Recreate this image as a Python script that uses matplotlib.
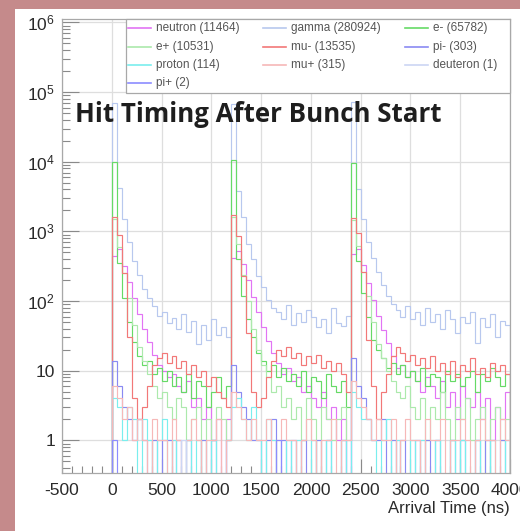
import numpy as np
import matplotlib
matplotlib.use("Agg")
import matplotlib.pyplot as plt
from matplotlib.patches import Rectangle
from matplotlib.lines import Line2D
from matplotlib.ticker import FixedLocator, FuncFormatter, LogLocator, MultipleLocator, NullFormatter

# ---------------------------------------------------------------- data
t_start, t_stop, bin_width = 0, 4000, 50          # ns

species = ["neutron", "gamma", "e-", "e+", "mu-", "pi-", "proton", "mu+", "deuteron", "pi+"]
entries = [11464, 280924, 65782, 10531, 13535, 303, 114, 315, 1, 2]

neutron = [
    450, 550, 320, 190, 110, 65, 40, 26, 17, 12, 10, 8, 9, 6, 5, 7, 3, 4, 2, 3, 1, 2, 0, 2,
    420, 530, 340, 200, 115, 70, 42, 27, 18, 13, 9, 11, 7, 8, 5, 6, 4, 3, 5, 2, 3, 1, 2, 0,
    480, 560, 330, 180, 105, 62, 38, 25, 16, 11, 12, 8, 10, 7, 5, 8, 6, 4, 7, 3, 5, 2, 6, 4,
    3, 5, 2, 4, 1, 3, 2, 5]
gamma = [
    70000, 4200, 1500, 700, 380, 240, 150, 110, 85, 62, 70, 48, 58, 40, 65, 36, 52, 24, 45, 28,
    55, 33, 42, 30,
    68000, 3800, 1600, 650, 400, 230, 160, 105, 80, 70, 55, 88, 45, 68, 50, 75, 60, 42, 55, 35,
    80, 48, 44, 62,
    72000, 4000, 1500, 700, 420, 260, 170, 120, 90, 75, 60, 85, 55, 70, 45, 80, 50, 65, 40, 75,
    55, 35, 60, 48, 70, 25, 58, 42, 66, 30, 52, 45]
e_minus = [
    10000, 350, 110, 50, 26, 16, 12, 14, 9, 11, 7, 10, 6, 8, 5, 9, 4, 7, 6, 3, 5, 8, 4, 6,
    10500, 400, 120, 55, 30, 18, 14, 10, 12, 8, 11, 7, 9, 6, 10, 5, 8, 7, 4, 9, 6, 5, 7, 3,
    9500, 380, 130, 60, 28, 20, 15, 11, 13, 9, 12, 8, 10, 7, 11, 6, 9, 8, 5, 10, 7, 9, 6, 8,
    10, 5, 9, 7, 11, 8, 6, 9]
e_plus = [
    1500, 600, 250, 110, 45, 22, 14, 9, 6, 4, 5, 3, 2, 4, 3, 1, 2, 3, 0, 2, 1, 3, 2, 1,
    1600, 650, 240, 100, 40, 20, 12, 8, 5, 6, 3, 4, 2, 3, 1, 4, 2, 0, 3, 2, 1, 2, 3, 1,
    1450, 620, 260, 120, 50, 24, 15, 10, 7, 5, 4, 6, 3, 2, 4, 1, 3, 2, 5, 2, 1, 3, 2, 4,
    1, 2, 3, 0, 2, 3, 1, 2]
mu_minus = [
    1600, 900, 250, 30, 4, 2, 3, 6, 12, 15, 18, 13, 16, 11, 14, 9, 12, 8, 10, 6, 8, 5, 4, 3,
    1700, 850, 230, 35, 5, 3, 4, 8, 14, 20, 16, 22, 15, 18, 12, 16, 13, 17, 11, 14, 10, 13, 9, 5,
    1550, 950, 260, 28, 6, 2, 5, 9, 16, 22, 18, 14, 17, 12, 15, 11, 16, 10, 13, 9, 14, 8, 12, 10,
    15, 9, 11, 8, 13, 10, 12, 9]
pi_minus = [
    14, 6, 3, 2, 1, 2, 1, 0, 1, 0, 1, 1, 0, 1, 0, 1, 0, 0, 1, 0, 1, 0, 0, 1,
    12, 5, 3, 2, 1, 1, 0, 1, 2, 0, 1, 0, 1, 0, 1, 0, 0, 1, 0, 1, 0, 0, 1, 0,
    15, 6, 4, 2, 1, 1, 2, 0, 1, 0, 1, 0, 0, 1, 0, 1, 0, 1, 0, 0, 1, 0, 1, 0,
    0, 1, 0, 1, 0, 0, 1, 0]
proton = [
    4, 3, 1, 3, 2, 0, 2, 1, 0, 1, 2, 0, 1, 0, 0, 1, 0, 1, 0, 0, 1, 0, 0, 1,
    3, 4, 2, 1, 3, 1, 0, 2, 1, 0, 0, 1, 0, 1, 0, 0, 1, 0, 0, 1, 0, 0, 1, 0,
    5, 3, 2, 2, 1, 0, 1, 2, 0, 1, 0, 0, 1, 0, 1, 0, 0, 1, 0, 0, 1, 0, 1, 0,
    0, 1, 0, 0, 1, 0, 0, 1]
mu_plus = [
    6, 4, 2, 3, 1, 2, 1, 0, 2, 1, 1, 0, 2, 1, 0, 1, 2, 1, 0, 1, 1, 2, 0, 1,
    5, 3, 2, 1, 2, 1, 1, 2, 0, 1, 2, 1, 1, 0, 1, 2, 1, 0, 1, 1, 2, 0, 1, 1,
    7, 4, 3, 2, 1, 2, 1, 1, 2, 0, 1, 2, 1, 1, 0, 2, 1, 1, 2, 0, 1, 1, 2, 1,
    0, 1, 2, 1, 1, 0, 2, 1]
deuteron = [
    0, 0, 0, 0, 0, 0, 0, 0, 0, 0, 0, 0, 0, 0, 1, 0, 0, 0, 0, 0, 0, 0, 0, 0,
    0, 0, 0, 0, 0, 0, 0, 0, 0, 0, 0, 0, 0, 0, 0, 0, 0, 0, 0, 0, 0, 0, 0, 0,
    0, 0, 0, 0, 0, 0, 0, 0, 0, 0, 0, 0, 0, 0, 0, 0, 0, 0, 0, 0, 0, 0, 0, 0,
    0, 0, 0, 0, 0, 0, 0, 0]
pi_plus = [
    1, 0, 0, 0, 0, 0, 0, 0, 0, 0, 0, 0, 0, 0, 0, 0, 0, 0, 0, 0, 0, 0, 0, 0,
    0, 0, 0, 0, 0, 0, 0, 0, 0, 1, 0, 0, 0, 0, 0, 0, 0, 0, 0, 0, 0, 0, 0, 0,
    0, 0, 0, 0, 0, 0, 0, 0, 0, 0, 0, 0, 0, 0, 0, 0, 0, 0, 0, 0, 0, 0, 0, 0,
    0, 0, 0, 0, 0, 0, 0, 0]

counts = [neutron, gamma, e_minus, e_plus, mu_minus, pi_minus, proton, mu_plus, deuteron, pi_plus]
colors = ["#e274f4", "#b8c8ee", "#66da66", "#ace9ac", "#f27878",
          "#8a8af2", "#7aeeee", "#f6b8b8", "#ccd6f4", "#8c8cff"]

x_ticks = [-500, 0, 500, 1000, 1500, 2000, 2500, 3000, 3500, 4000]
y_ticks = [1, 10, 1e2, 1e3, 1e4, 1e5, 1e6]

# ---------------------------------------------------------------- figure
W, H = 520, 531
plt.rcParams['font.family'] = ['Liberation Sans', 'DejaVu Sans']
plt.rcParams['mathtext.default'] = 'regular'

def fx(px):
    return px / W

def fy(py):
    return 1 - py / H

fig = plt.figure(figsize=(W / 100, H / 100), dpi=100, facecolor="#c58a8b")
fig.patches.append(Rectangle((fx(15), 0), 1, fy(9), transform=fig.transFigure,
                             facecolor="white", edgecolor="none", zorder=-5))

ax = fig.add_axes([fx(62), fy(473), fx(510) - fx(62), fy(19) - fy(473)])
ax.set_facecolor("white")

edges = np.arange(t_start, t_stop + bin_width, bin_width)
floor = 1e-3
for vals, col in zip(counts, colors):
    v = np.asarray(vals, dtype=float)
    ax.stairs(np.where(v > 0, v, floor), edges, baseline=floor, color=col, lw=0.85)

ax.set_yscale("log")
ax.set_xlim(-500, 4000)
ax.set_ylim(0.34, 1.12e6)

ax.xaxis.set_major_locator(FixedLocator(x_ticks))
ax.xaxis.set_minor_locator(MultipleLocator(100))
ax.yaxis.set_major_locator(FixedLocator(y_ticks))
ax.yaxis.set_minor_locator(LogLocator(base=10, subs=np.arange(2, 10)))
ax.yaxis.set_minor_formatter(NullFormatter())


def ylab(v, pos):
    n = int(round(np.log10(v)))
    if n == 0:
        return "1"
    if n == 1:
        return "10"
    return r"$10^{%d}$" % n


ax.yaxis.set_major_formatter(FuncFormatter(ylab))
ax.xaxis.set_major_formatter(FuncFormatter(lambda v, p: "%d" % v))

ax.tick_params(which="both", direction="in", color="#8a8a8a", width=0.8,
               labelcolor="#2a2a2a", labelsize=12.5)
ax.tick_params(axis="y", which="major", length=12, pad=5)
ax.tick_params(axis="y", which="minor", length=6)
ax.tick_params(axis="x", which="major", length=10, pad=7)
ax.tick_params(axis="x", which="minor", length=5)

ax.grid(True, which="major", color="#dedede", lw=0.9)
ax.set_axisbelow(True)
for s in ax.spines.values():
    s.set_color("#a8a8a8")
    s.set_linewidth(0.9)

# axis title
fig.text(fx(510), fy(508), "Arrival Time (ns)", ha="right", va="center",
         fontsize=12, color="#2a2a2a")

# headline over the plot
fig.text(fx(75), fy(115), "Hit Timing After Bunch Start", ha="left", va="center",
         fontfamily=["Open Sans", "DejaVu Sans"], fontweight="bold", fontsize=18.6,
         color="#1e1e1e", zorder=6)

# legend box: three columns, filled row by row
fig.patches.append(Rectangle((fx(126), fy(93)), fx(510) - fx(126), fy(19) - fy(93),
                             transform=fig.transFigure, facecolor="white",
                             edgecolor="#a8a8a8", lw=0.9, zorder=4))
col_x = [128, 263, 405]
row_y = [28, 47, 65, 83]
for i, (name, n, col) in enumerate(zip(species, entries, colors)):
    r, c = divmod(i, 3)
    x0, y0 = col_x[c], row_y[r]
    fig.lines.append(Line2D([fx(x0), fx(x0 + 23)], [fy(y0), fy(y0)],
                            transform=fig.transFigure, color=col, lw=1.2, zorder=5))
    fig.text(fx(x0 + 28), fy(y0), "%s (%d)" % (name, n), ha="left", va="center",
             fontsize=8.5, color="#555555", zorder=5)

fig.savefig("out.png", dpi=100, facecolor=fig.get_facecolor())
